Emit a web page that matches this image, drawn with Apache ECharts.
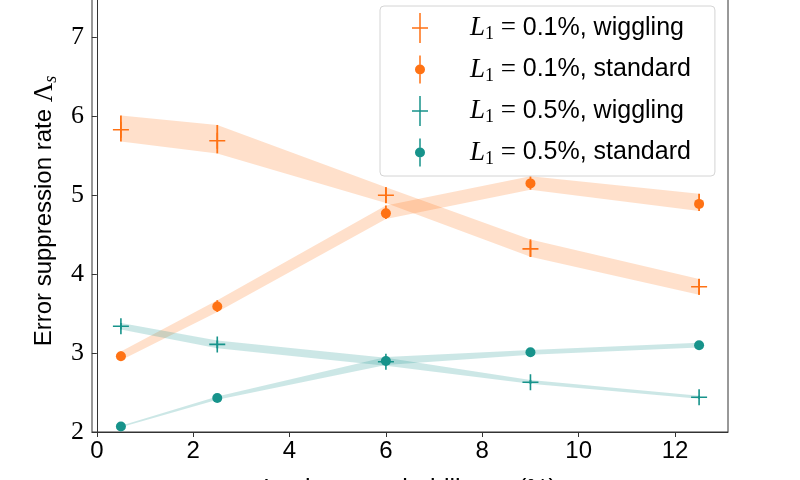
<!DOCTYPE html>
<html>
<head>
<meta charset="utf-8">
<script src="https://cdn.jsdelivr.net/npm/echarts@6/dist/echarts.min.js"></script>
<style>
  html, body { margin: 0; padding: 0; background: #fff; }
  #chart { width: 800px; height: 480px; }
</style>
</head>
<body>
<div id="chart"></div>
<script>
// leakage probability (%)
var xVals = [0.5, 2.5, 6, 9, 12.5];
var xTicks = [0, 2, 4, 6, 8, 10, 12];
var yTicks = [2, 3, 4, 5, 6, 7];

// L1 = 0.1%, wiggling
var o1Wig = [5.83, 5.69, 5.00, 4.32, 3.84];
var o1WigLo = [5.68, 5.53, 4.90, 4.22, 3.74];
var o1WigHi = [6.01, 5.89, 5.10, 4.44, 3.94];
// L1 = 0.1%, standard
var o1Std = [2.96, 3.59, 4.77, 5.15, 4.89];
var o1StdLo = [2.91, 3.52, 4.70, 5.07, 4.80];
var o1StdHi = [3.02, 3.67, 4.87, 5.24, 5.02];
// L1 = 0.5%, wiggling
var o5Wig = [3.34, 3.11, 2.89, 2.63, 2.44];
var o5WigLo = [3.30, 3.06, 2.84, 2.61, 2.42];
var o5WigHi = [3.38, 3.16, 2.94, 2.66, 2.46];
// L1 = 0.5%, standard
var o5Std = [2.07, 2.43, 2.90, 3.01, 3.10];
var o5StdLo = [2.06, 2.41, 2.85, 2.98, 3.07];
var o5StdHi = [2.08, 2.45, 2.95, 3.04, 3.13];

var ORANGE = '#ff7214';
var TEAL = '#17938b';
var ORANGE_BAND = 'rgba(255,114,20,0.22)';
var TEAL_BAND = 'rgba(23,147,139,0.22)';

var plusMark = 'path://M7.2,0H8.8V7.2H16V8.8H8.8V16H7.2V8.8H0V7.2H7.2Z';
var plusIcon = 'path://M7.25,0H8.75V14.25H16V15.75H8.75V30H7.25V15.75H0V14.25H7.25Z';
var dotIcon = 'path://M0,0L0.01,0L0,0.01Z M16,30L15.99,30L16,29.99Z ' +
  'M7.25,1H8.75V10.3H7.25Z M7.25,19.7H8.75V29H7.25Z ' +
  'M3,15A5,5 0 1 1 13,15A5,5 0 1 1 3,15Z';

var legendText = {
  o1w: ['0.1', 'wiggling'],
  o1s: ['0.1', 'standard'],
  o5w: ['0.5', 'wiggling'],
  o5s: ['0.5', 'standard']
};

function pairs(ys) {
  return xVals.map(function (x, i) { return [x, ys[i]]; });
}

// shaded band between lower and upper error values
function bandSeries(lo, hi, color) {
  return {
    type: 'custom',
    silent: true,
    z: 1,
    clip: true,
    data: [[xVals[0], lo[0]]],
    renderItem: function (params, api) {
      var pts = [];
      for (var i = 0; i < xVals.length; i++) pts.push(api.coord([xVals[i], hi[i]]));
      for (var j = xVals.length - 1; j >= 0; j--) pts.push(api.coord([xVals[j], lo[j]]));
      return { type: 'polygon', shape: { points: pts }, style: { fill: color } };
    }
  };
}

// vertical error bars
function errSeries(lo, hi, color) {
  return {
    type: 'custom',
    silent: true,
    z: 2,
    data: xVals.map(function (x, i) { return [x, lo[i], hi[i]]; }),
    encode: { x: 0, y: [1, 2] },
    renderItem: function (params, api) {
      var a = api.coord([api.value(0), api.value(1)]);
      var b = api.coord([api.value(0), api.value(2)]);
      return {
        type: 'line',
        shape: { x1: a[0], y1: a[1], x2: b[0], y2: b[1] },
        style: { stroke: color, lineWidth: 1.8 }
      };
    }
  };
}

function markSeries(name, ys, color, plus) {
  return {
    name: name,
    type: 'scatter',
    z: 3,
    data: pairs(ys),
    symbol: plus ? plusMark : 'circle',
    symbolSize: plus ? 16 : 10,
    itemStyle: { color: color, opacity: 1 },
    emphasis: { disabled: true }
  };
}

var chart = echarts.init(document.getElementById('chart'));

var option = {
  animation: false,
  grid: {
    left: 92, right: 72, top: -10, bottom: 48,
    containLabel: false,
    outerBoundsMode: 'none',
    show: true, borderColor: '#333', borderWidth: 1
  },
  legend: {
    orient: 'vertical',
    left: 380,
    top: 6,
    padding: [7, 24, 8, 32],
    itemGap: 11,
    itemWidth: 16,
    itemHeight: 30,
    backgroundColor: '#fff',
    borderColor: '#d4d4d4',
    borderWidth: 1,
    borderRadius: 4,
    selectedMode: false,
    data: [
      { name: 'o1w', icon: plusIcon },
      { name: 'o1s', icon: dotIcon },
      { name: 'o5w', icon: plusIcon },
      { name: 'o5s', icon: dotIcon }
    ],
    formatter: function (name) {
      var t = legendText[name];
      return '{i|L}{sub|1}{m| = }{t|' + t[0] + '%, ' + t[1] + '}';
    },
    textStyle: {
      color: '#000',
      rich: {
        i: { fontFamily: 'Liberation Serif', fontStyle: 'italic', fontSize: 27, color: '#000', padding: [0, 0, 0, 37] },
        sub: { fontFamily: 'Liberation Serif', fontSize: 18, color: '#000', padding: [13, 0, 0, 0] },
        m: { fontFamily: 'Liberation Serif', fontSize: 27, color: '#000' },
        t: { fontFamily: 'Liberation Sans', fontSize: 25, color: '#000' }
      }
    }
  },
  xAxis: {
    type: 'value',
    min: -0.1,
    max: 13.1,
    name: '{t|Leakage probability }{i|L}{sub|2}{t| (%)}',
    nameLocation: 'middle',
    nameGap: 43,
    nameTextStyle: {
      verticalAlign: 'top',
      rich: {
        t: { fontFamily: 'Liberation Sans', fontSize: 25, color: '#000' },
        i: { fontFamily: 'Liberation Serif', fontStyle: 'italic', fontSize: 27, color: '#000' },
        sub: { fontFamily: 'Liberation Serif', fontSize: 18, color: '#000', padding: [13, 0, 0, 0] }
      }
    },
    splitLine: { show: false },
    axisLine: { show: true, lineStyle: { color: '#333', width: 1 } },
    axisTick: { show: true, inside: false, length: 5, lineStyle: { color: '#333' }, customValues: xTicks },
    axisLabel: { customValues: xTicks, margin: 7, color: '#000', fontFamily: 'Liberation Sans', fontSize: 24 }
  },
  yAxis: {
    type: 'value',
    min: 2,
    max: 7.6,
    name: '{t|Error suppression rate }{i|Λ}{sub|s}',
    nameLocation: 'middle',
    nameGap: 26,
    nameTextStyle: {
      rich: {
        t: { fontFamily: 'Liberation Sans', fontSize: 24, color: '#000' },
        i: { fontFamily: 'Liberation Serif', fontSize: 27, color: '#000' },
        sub: { fontFamily: 'Liberation Serif', fontStyle: 'italic', fontSize: 18, color: '#000', padding: [13, 0, 0, 0] }
      }
    },
    splitLine: { show: false },
    axisLine: { show: true, lineStyle: { color: '#333', width: 1 } },
    axisTick: { show: true, inside: false, length: 5, lineStyle: { color: '#333' }, customValues: yTicks },
    axisLabel: { customValues: yTicks, margin: 8, color: '#000', fontFamily: 'Liberation Serif', fontSize: 26 }
  },
  series: [
    bandSeries(o1WigLo, o1WigHi, ORANGE_BAND),
    bandSeries(o1StdLo, o1StdHi, ORANGE_BAND),
    bandSeries(o5WigLo, o5WigHi, TEAL_BAND),
    bandSeries(o5StdLo, o5StdHi, TEAL_BAND),
    errSeries(o1WigLo, o1WigHi, ORANGE),
    errSeries(o1StdLo, o1StdHi, ORANGE),
    errSeries(o5WigLo, o5WigHi, TEAL),
    errSeries(o5StdLo, o5StdHi, TEAL),
    markSeries('o1w', o1Wig, ORANGE, true),
    markSeries('o1s', o1Std, ORANGE, false),
    markSeries('o5w', o5Wig, TEAL, true),
    markSeries('o5s', o5Std, TEAL, false)
  ]
};

chart.setOption(option);
window.addEventListener('resize', function () { chart.resize(); });
</script>
</body>
</html>
